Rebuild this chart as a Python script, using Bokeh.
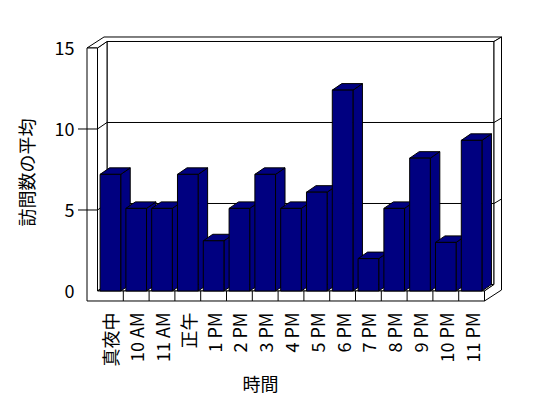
import math
from bokeh.plotting import figure
from bokeh.models import FixedTicker, Range1d, Title
from bokeh.embed import file_html
from bokeh.resources import INLINE

# ---- data ----
hours = ["真夜中", "10 AM", "11 AM", "正午", "1 PM", "2 PM", "3 PM", "4 PM",
         "5 PM", "6 PM", "7 PM", "8 PM", "9 PM", "10 PM", "11 PM"]
avg_visits = [7.2, 5.1, 5.1, 7.2, 3.1, 5.1, 7.2, 5.1, 6.1, 12.4, 2.0, 5.1, 8.2, 3.0, 9.3]
y_ticks = [0, 5, 10, 15]
grid_values = [5, 10]
y_max = 15
x_title = "時間"
y_title = "訪問数の平均"

# ---- layout / style ----
FONT = "Noto Sans CJK JP"
FW, FH = 428, 276
x0, x1 = -0.814, 15.775
y0, y1 = -1.2037, 15.833
pxu = FW / (x1 - x0)
pxv = FH / (y1 - y0)
n = len(hours)

du1, dv1 = 9.5 / pxu, 6.5 / pxv      # depth to back wall face
du2, dv2 = 17.0 / pxu, 11.0 / pxv    # outer depth
wt = 10.5 / pxu                       # left wall thickness
ft = 10.0 / pxv                       # floor thickness
tick_len = 9.0 / pxu
bar_pad = 0.1
NAVY = "#000080"

p = figure(width=534, height=386, frame_width=FW, frame_height=FH,
           x_range=Range1d(x0, x1), y_range=Range1d(y0, y1),
           output_backend="svg", toolbar_location=None,
           min_border_left=76, min_border_top=34, min_border_right=30, min_border_bottom=76)
p.outline_line_color = None
p.xgrid.visible = False
p.ygrid.visible = False
p.background_fill_color = "white"
p.border_fill_color = "white"

W = dict(fill_color="white", line_color="black", line_width=1)

# back wall face
p.patch([du1, n + du1, n + du1, du1], [dv1, dv1, y_max + dv1, y_max + dv1], **W)
# left wall inner face
p.patch([0, 0, du1, du1], [0, y_max, y_max + dv1, dv1], **W)
# floor top
p.patch([0, n, n + du1, du1], [0, 0, dv1, dv1], **W)
# top face (left wall + back wall)
p.patch([-wt, 0, du1, n + du1, n + du2, -wt + du2],
        [y_max, y_max, y_max + dv1, y_max + dv1, y_max + dv2, y_max + dv2], **W)
# right side face
p.patch([n, n, n + du1, n + du1, n + du2, n + du2],
        [-ft, 0, dv1, y_max + dv1, y_max + dv2, -ft + dv2], **W)
# front L face (left wall + floor)
p.patch([-wt, n, n, 0, 0, -wt], [-ft, -ft, 0, 0, y_max, y_max], **W)

# gridlines with ticks
gx, gy = [], []
for g in grid_values:
    gx.append([-wt - tick_len, 0, du1, n + du1, n + du2])
    gy.append([g, g, g + dv1, g + dv1, g + dv2])
p.multi_line(gx, gy, line_color="black", line_width=1)

# category boundary ticks on floor front
bx = list(range(1, n))
p.segment(x0=bx, y0=[-ft] * len(bx), x1=bx, y1=[0] * len(bx), line_color="black", line_width=1)

# bars (side, top, front per bar, drawn left to right)
xs, ys = [], []
for i, v in enumerate(avg_visits):
    l, r = i + bar_pad, i + 1 - bar_pad
    xs.append([r, r, r + du1, r + du1]); ys.append([0, v, v + dv1, dv1])
    xs.append([l, r, r + du1, l + du1]); ys.append([v, v, v + dv1, v + dv1])
    xs.append([l, r, r, l]); ys.append([0, 0, v, v])
p.patches(xs, ys, fill_color=NAVY, line_color="black", line_width=1)

# axes
p.yaxis.ticker = FixedTicker(ticks=y_ticks)
p.yaxis.axis_line_color = None
p.yaxis.major_tick_line_color = None
p.yaxis.minor_tick_line_color = None
p.yaxis.major_tick_out = 0
p.yaxis.major_tick_in = 0
p.yaxis.major_label_standoff = 2
p.yaxis.major_label_text_font = FONT
p.yaxis.major_label_text_font_size = "18px"
p.yaxis.major_label_text_color = "black"
p.yaxis.axis_label = y_title
p.yaxis.axis_label_standoff = 13
p.yaxis.axis_label_text_font = FONT
p.yaxis.axis_label_text_font_size = "18px"
p.yaxis.axis_label_text_font_style = "normal"
p.yaxis.axis_label_text_color = "black"

centers = [i + 0.5 for i in range(n)]
p.xaxis.ticker = FixedTicker(ticks=centers)
p.xaxis.major_label_overrides = {c: h for c, h in zip(centers, hours)}
p.xaxis.major_label_orientation = math.pi / 2
p.xaxis.axis_line_color = None
p.xaxis.major_tick_line_color = None
p.xaxis.minor_tick_line_color = None
p.xaxis.major_tick_out = 0
p.xaxis.major_tick_in = 0
p.xaxis.major_label_standoff = 2
p.xaxis.major_label_text_font = FONT
p.xaxis.major_label_text_font_size = "18px"
p.xaxis.major_label_text_color = "black"

p.add_layout(Title(text=x_title, align="left", offset=166, standoff=0,
                   vertical_align="top", text_line_height=1.0,
                   text_font=FONT, text_font_size="18px", text_font_style="normal",
                   text_color="black"), "below")

open("out.html", "w").write(file_html(p, INLINE))
